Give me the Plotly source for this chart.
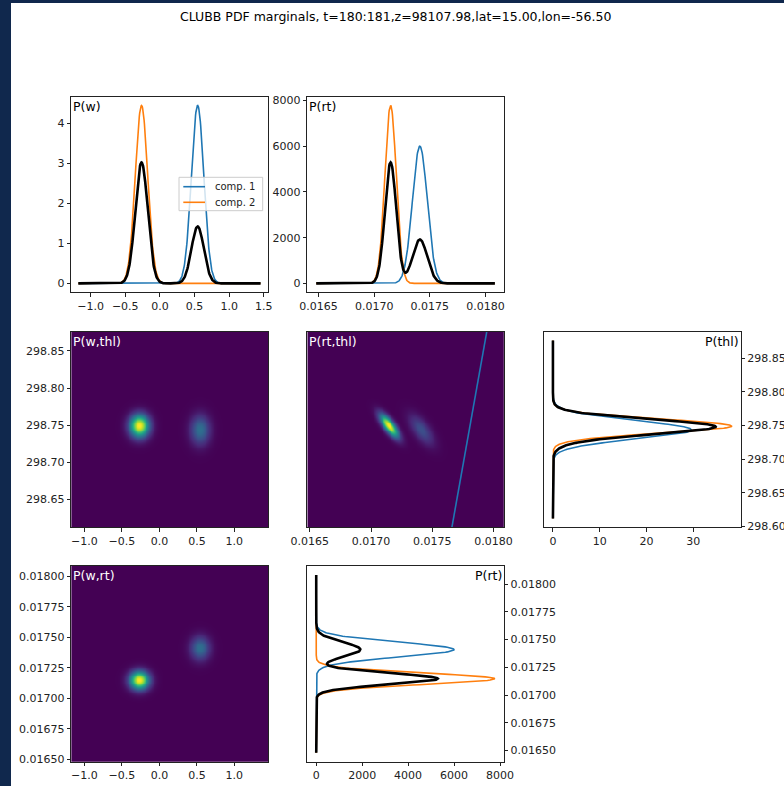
import numpy as np
import plotly.graph_objects as go

FIG_W, FIG_H = 784, 786

TITLE = "CLUBB PDF marginals, t=180:181,z=98107.98,lat=15.00,lon=-56.50"

# ---- mixture parameters (comp. 1, comp. 2) ----
COMP_NAMES = ["comp. 1", "comp. 2"]
COMP_COLORS = ["#1f77b4", "#ff7f0e"]
WEIGHTS = [0.32, 0.68]
MU_W = [0.545, -0.265]
SIGMA_W = [0.0897, 0.0897]
MU_RT = [0.017410, 0.017147]
SIGMA_RT = [6.65e-5, 5.13e-5]
MU_THL = [298.7435, 298.7490]
SIGMA_THL = [0.01348, 0.01044]
CORR_RT_THL = [-0.65, -0.75]

# ---- variable extents ----
W_EXTENT = [-1.177, 1.453]
RT_EXTENT = [0.016479, 0.018084]
THL_EXTENT = [298.612, 298.876]

# saturation line in the (rt, thl) panel
SAT_THL = [298.612, 298.876]
SAT_RT = [0.01766, 0.017945]

# ---- tick labels ----
W_TICKS_LINE = [-1.0, -0.5, 0.0, 0.5, 1.0, 1.5]
W_TICKS_MAP = [-1.0, -0.5, 0.0, 0.5, 1.0]
RT_TICKS = [0.0165, 0.0170, 0.0175, 0.0180]
RT_TICKS_FINE = [0.0165, 0.01675, 0.0170, 0.01725, 0.0175, 0.01775, 0.0180]
THL_TICKS_MAP = [298.65, 298.70, 298.75, 298.80, 298.85]
THL_TICKS_MARG = [298.60, 298.65, 298.70, 298.75, 298.80, 298.85]
PW_TICKS = [0, 1, 2, 3, 4]
PRT_TICKS = [0, 2000, 4000, 6000, 8000]
PTHL_TICKS = [0, 10, 20, 30]


def fmt(v, nd):
    s = f"{v:.{nd}f}"
    return s.replace("-", "\u2212")


def gauss(x, mu, s):
    return np.exp(-0.5 * ((x - mu) / s) ** 2) / (s * np.sqrt(2 * np.pi))


def biv(x, y, mx, my, sx, sy, r):
    X, Y = np.meshgrid(x, y)
    zx = (X - mx) / sx
    zy = (Y - my) / sy
    q = (zx ** 2 - 2 * r * zx * zy + zy ** 2) / (1 - r ** 2)
    return np.exp(-0.5 * q) / (2 * np.pi * sx * sy * np.sqrt(1 - r ** 2))


def centers(ext, n):
    d = (ext[1] - ext[0]) / n
    return np.linspace(ext[0] + d / 2, ext[1] - d / 2, n)


NL = 500
w_line = np.linspace(W_EXTENT[0], W_EXTENT[1], NL)
rt_line = np.linspace(RT_EXTENT[0], RT_EXTENT[1], NL)
thl_line = np.linspace(THL_EXTENT[0], THL_EXTENT[1], NL)

NM = 220
w_c = centers(W_EXTENT, NM)
rt_c = centers(RT_EXTENT, NM)
thl_c = centers(THL_EXTENT, NM)

fig = go.Figure()

FONT = "DejaVu Sans"
TXT = "#222222"


def px_x(p):
    return p / FIG_W


def px_y(p):
    return 1 - p / FIG_H


# panel pixel boxes
COLS = [(71.2, 268.3), (307.3, 503.8), (544.0, 740.5)]
ROWS = [(96.6, 292.3), (331.7, 527.3), (566.0, 761.7)]


def dom_x(c):
    return [px_x(COLS[c][0]), px_x(COLS[c][1])]


def dom_y(r):
    return [px_y(ROWS[r][1]), px_y(ROWS[r][0])]


def axis(domain, rng, vals, texts, anchor, side=None, show=True):
    d = dict(domain=domain, range=rng, anchor=anchor, showgrid=False, zeroline=False,
             automargin=False,
             showline=True, mirror=True, linecolor=TXT, linewidth=1,
             tickfont=dict(family=FONT, size=11, color=TXT))
    if show:
        d.update(tickmode="array", tickvals=vals, ticktext=texts, ticks="outside",
                 ticklen=3.5, tickwidth=0.9, tickcolor=TXT)
    else:
        d.update(showticklabels=False, ticks="")
    if side:
        d["side"] = side
    return d


# ---------- panel 1: P(w) ----------
mix = np.zeros_like(w_line)
for i in range(2):
    g = gauss(w_line, MU_W[i], SIGMA_W[i])
    mix += WEIGHTS[i] * g
    fig.add_trace(go.Scatter(x=w_line, y=g, mode="lines", line=dict(color=COMP_COLORS[i], width=1.6),
                             xaxis="x", yaxis="y", showlegend=False))
fig.add_trace(go.Scatter(x=w_line, y=mix, mode="lines", line=dict(color="black", width=2.6),
                         xaxis="x", yaxis="y", showlegend=False))

# ---------- panel 2: P(rt) ----------
mix = np.zeros_like(rt_line)
for i in range(2):
    g = gauss(rt_line, MU_RT[i], SIGMA_RT[i])
    mix += WEIGHTS[i] * g
    fig.add_trace(go.Scatter(x=rt_line, y=g, mode="lines", line=dict(color=COMP_COLORS[i], width=1.6),
                             xaxis="x2", yaxis="y2", showlegend=False))
fig.add_trace(go.Scatter(x=rt_line, y=mix, mode="lines", line=dict(color="black", width=2.6),
                         xaxis="x2", yaxis="y2", showlegend=False))
prt_max = max(gauss(np.array(MU_RT[i]), MU_RT[i], SIGMA_RT[i]) for i in range(2))

# ---------- panel 3: P(w,thl) ----------
z = sum(WEIGHTS[i] * biv(w_c, thl_c, MU_W[i], MU_THL[i], SIGMA_W[i], SIGMA_THL[i], 0.0) for i in range(2))
fig.add_trace(go.Heatmap(x=w_c, y=thl_c, z=z, colorscale="Viridis", zmin=0, zmax=z.max(),
                         showscale=False, xaxis="x3", yaxis="y3", hoverinfo="skip"))

# ---------- panel 4: P(rt,thl) ----------
z = sum(WEIGHTS[i] * biv(rt_c, thl_c, MU_RT[i], MU_THL[i], SIGMA_RT[i], SIGMA_THL[i], CORR_RT_THL[i])
        for i in range(2))
fig.add_trace(go.Heatmap(x=rt_c, y=thl_c, z=z, colorscale="Viridis", zmin=0, zmax=z.max(),
                         showscale=False, xaxis="x4", yaxis="y4", hoverinfo="skip"))
fig.add_trace(go.Scatter(x=SAT_RT, y=SAT_THL, mode="lines", line=dict(color=COMP_COLORS[0], width=1.6),
                         xaxis="x4", yaxis="y4", showlegend=False))

# ---------- panel 5: P(thl) ----------
mix = np.zeros_like(thl_line)
for i in range(2):
    g = gauss(thl_line, MU_THL[i], SIGMA_THL[i])
    mix += WEIGHTS[i] * g
    fig.add_trace(go.Scatter(x=g, y=thl_line, mode="lines", line=dict(color=COMP_COLORS[i], width=1.6),
                             xaxis="x5", yaxis="y5", showlegend=False))
fig.add_trace(go.Scatter(x=mix, y=thl_line, mode="lines", line=dict(color="black", width=2.6),
                         xaxis="x5", yaxis="y5", showlegend=False))
pthl_max = max(gauss(np.array(MU_THL[i]), MU_THL[i], SIGMA_THL[i]) for i in range(2))

# ---------- panel 6: P(w,rt) ----------
z = sum(WEIGHTS[i] * biv(w_c, rt_c, MU_W[i], MU_RT[i], SIGMA_W[i], SIGMA_RT[i], 0.0) for i in range(2))
fig.add_trace(go.Heatmap(x=w_c, y=rt_c, z=z, colorscale="Viridis", zmin=0, zmax=z.max(),
                         showscale=False, xaxis="x6", yaxis="y6", hoverinfo="skip"))

# ---------- panel 7: P(rt) vertical ----------
mix = np.zeros_like(rt_line)
for i in range(2):
    g = gauss(rt_line, MU_RT[i], SIGMA_RT[i])
    mix += WEIGHTS[i] * g
    fig.add_trace(go.Scatter(x=g, y=rt_line, mode="lines", line=dict(color=COMP_COLORS[i], width=1.6),
                             xaxis="x7", yaxis="y7", showlegend=False))
fig.add_trace(go.Scatter(x=mix, y=rt_line, mode="lines", line=dict(color="black", width=2.6),
                         xaxis="x7", yaxis="y7", showlegend=False))


def pad(lo, hi, f=0.05):
    d = (hi - lo) * f
    return [lo - d, hi + d]


pw_max = gauss(np.array(MU_W[0]), MU_W[0], SIGMA_W[0])
w_line_range = [-1.28, 1.565]
rt_line_range = pad(*RT_EXTENT)
thl_marg_range = pad(*THL_EXTENT)

w_tx_line = [fmt(v, 1) for v in W_TICKS_LINE]
w_tx_map = [fmt(v, 1) for v in W_TICKS_MAP]
rt_tx = [fmt(v, 4) for v in RT_TICKS]
rt_tx_fine = [fmt(v, 5) for v in RT_TICKS_FINE]
thl_tx_map = [fmt(v, 2) for v in THL_TICKS_MAP]
thl_tx_marg = [fmt(v, 2) for v in THL_TICKS_MARG]

layout = dict(
    width=FIG_W, height=FIG_H, margin=dict(l=0, r=0, t=0, b=0, autoexpand=False),
    paper_bgcolor="white", plot_bgcolor="white", showlegend=False,
    xaxis=axis(dom_x(0), w_line_range, W_TICKS_LINE, w_tx_line, "y"),
    yaxis=axis(dom_y(0), pad(0, pw_max), PW_TICKS, [str(v) for v in PW_TICKS], "x"),
    xaxis2=axis(dom_x(1), rt_line_range, RT_TICKS, rt_tx, "y2"),
    yaxis2=axis(dom_y(0), pad(0, prt_max), PRT_TICKS, [str(v) for v in PRT_TICKS], "x2"),
    xaxis3=axis(dom_x(0), W_EXTENT, W_TICKS_MAP, w_tx_map, "y3"),
    yaxis3=axis(dom_y(1), THL_EXTENT, THL_TICKS_MAP, thl_tx_map, "x3"),
    xaxis4=axis(dom_x(1), RT_EXTENT, RT_TICKS, rt_tx, "y4"),
    yaxis4=axis(dom_y(1), THL_EXTENT, [], [], "x4", show=False),
    xaxis5=axis(dom_x(2), pad(0, pthl_max), PTHL_TICKS, [str(v) for v in PTHL_TICKS], "y5"),
    yaxis5=axis(dom_y(1), thl_marg_range, THL_TICKS_MARG, thl_tx_marg, "x5", side="right"),
    xaxis6=axis(dom_x(0), W_EXTENT, W_TICKS_MAP, w_tx_map, "y6"),
    yaxis6=axis(dom_y(2), RT_EXTENT, RT_TICKS_FINE, rt_tx_fine, "x6"),
    xaxis7=axis(dom_x(1), pad(0, prt_max), PRT_TICKS, [str(v) for v in PRT_TICKS], "y7"),
    yaxis7=axis(dom_y(2), rt_line_range, RT_TICKS_FINE, rt_tx_fine, "x7", side="right"),
)
fig.update_layout(**layout)

shapes = []
# dark window border strips
shapes.append(dict(type="rect", xref="paper", yref="paper", x0=-0.01, x1=px_x(11), y0=-0.01, y1=1.01,
                   fillcolor="#10284d", line=dict(width=0), layer="above"))
shapes.append(dict(type="rect", xref="paper", yref="paper", x0=-0.01, x1=1.01, y0=px_y(3), y1=1.01,
                   fillcolor="#10284d", line=dict(width=0), layer="above"))
# legend box
shapes.append(dict(type="rect", xref="paper", yref="paper", x0=px_x(179), x1=px_x(262.7),
                   y0=px_y(210.7), y1=px_y(177.3), fillcolor="rgba(255,255,255,0.8)",
                   line=dict(color="#cccccc", width=1), layer="above"))
LEG_Y = [186.7, 202.3]
annotations = []
for i in range(2):
    shapes.append(dict(type="line", xref="paper", yref="paper", x0=px_x(183.3), x1=px_x(205),
                       y0=px_y(LEG_Y[i]), y1=px_y(LEG_Y[i]), line=dict(color=COMP_COLORS[i], width=1.6),
                       layer="above"))
    annotations.append(dict(xref="paper", yref="paper", x=px_x(213), y=px_y(LEG_Y[i]), text=COMP_NAMES[i],
                            showarrow=False, xanchor="left", yanchor="middle",
                            font=dict(family=FONT, size=10, color=TXT)))

annotations.append(dict(xref="paper", yref="paper", x=px_x(395), y=px_y(17), text=TITLE, showarrow=False,
                        xanchor="center", yanchor="middle", font=dict(family=FONT, size=12.5, color="black")))

PANEL_LABELS = [
    ("P(w)", 0, 0, "left", "black"),
    ("P(rt)", 1, 0, "left", "black"),
    ("P(w,thl)", 0, 1, "left", "white"),
    ("P(rt,thl)", 1, 1, "left", "white"),
    ("P(thl)", 2, 1, "right", "black"),
    ("P(w,rt)", 0, 2, "left", "white"),
    ("P(rt)", 1, 2, "right", "black"),
]
for txt, c, r, anc, col in PANEL_LABELS:
    xp = COLS[c][0] if anc == "left" else COLS[c][1]
    annotations.append(dict(xref="paper", yref="paper", x=px_x(xp), y=px_y(ROWS[r][0]), text=txt,
                            showarrow=False, xanchor=anc, yanchor="top",
                            font=dict(family=FONT, size=12.5, color=col)))

fig.update_layout(shapes=shapes, annotations=annotations)
fig.write_html("out.html")
